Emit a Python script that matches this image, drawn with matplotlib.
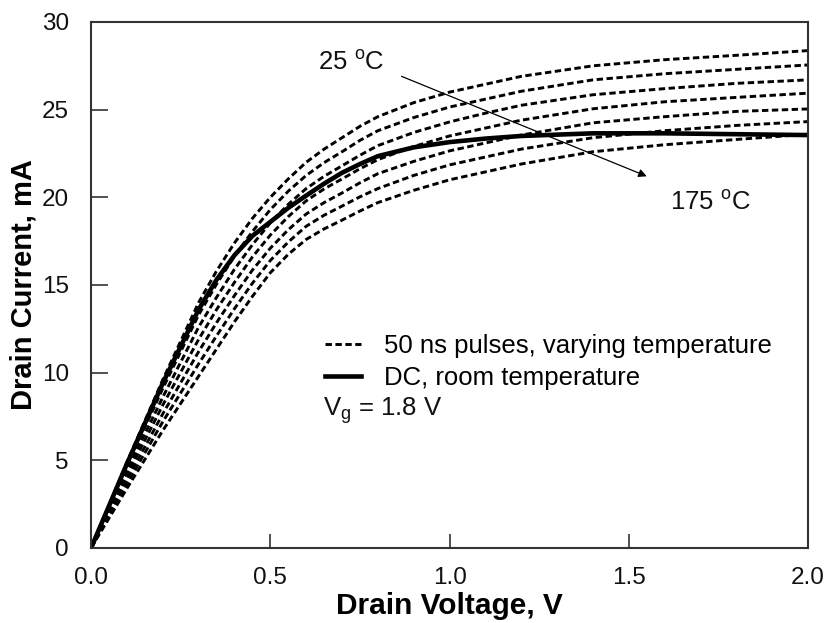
import matplotlib
matplotlib.use("Agg")
import matplotlib.pyplot as plt
from matplotlib.lines import Line2D

plt.rcParams['font.family'] = ['Liberation Sans', 'DejaVu Sans']

# drain voltage, V
vd = [0, 0.1, 0.2, 0.3, 0.35, 0.4, 0.45, 0.5, 0.55, 0.6, 0.65, 0.7, 0.75, 0.8, 0.9,
      1.0, 1.1, 1.2, 1.4, 1.6, 1.8, 2.0]

# 50 ns pulsed curves, 25 C (top) ... 175 C (bottom), drain current in mA
pulse_25 = [0, 4.9, 9.6, 14.0, 15.8, 17.4, 18.8, 20.0, 21.05, 22.0, 22.75, 23.4, 24.05, 24.6, 25.4,
            26.0, 26.45, 26.9, 27.5, 27.85, 28.1, 28.37]
pulse_50 = [0, 4.65, 9.1, 13.3, 15.05, 16.65, 18.05, 19.3, 20.35, 21.25, 21.98, 22.6, 23.25, 23.8, 24.55,
            25.15, 25.6, 26.05, 26.7, 27.05, 27.3, 27.55]
pulse_75 = [0, 4.4, 8.6, 12.6, 14.3, 15.9, 17.3, 18.55, 19.6, 20.5, 21.2, 21.8, 22.4, 22.95, 23.7,
            24.3, 24.8, 25.25, 25.85, 26.2, 26.5, 26.7]
pulse_100 = [0, 4.15, 8.15, 11.9, 13.6, 15.15, 16.6, 17.85, 18.9, 19.8, 20.48, 21.05, 21.63, 22.15, 22.9,
             23.5, 23.95, 24.4, 25.05, 25.45, 25.7, 25.94]
pulse_125 = [0, 3.9, 7.65, 11.2, 12.85, 14.4, 15.85, 17.1, 18.15, 19.05, 19.7, 20.25, 20.83, 21.35, 22.05,
             22.65, 23.1, 23.55, 24.25, 24.6, 24.9, 25.04]
pulse_150 = [0, 3.65, 7.2, 10.5, 12.1, 13.65, 15.1, 16.4, 17.45, 18.35, 18.98, 19.5, 20.03, 20.5, 21.25,
             21.85, 22.3, 22.75, 23.4, 23.8, 24.1, 24.32]
pulse_175 = [0, 3.4, 6.7, 9.8, 11.35, 12.9, 14.35, 15.7, 16.75, 17.6, 18.2, 18.7, 19.22, 19.7, 20.4,
             21.0, 21.45, 21.9, 22.6, 23.0, 23.3, 23.6]
pulses = [pulse_25, pulse_50, pulse_75, pulse_100, pulse_125, pulse_150, pulse_175]

# DC curve at room temperature
dc = [0, 4.8, 9.4, 13.6, 15.3, 16.7, 17.8, 18.6, 19.4, 20.1, 20.78, 21.4, 21.9, 22.35, 22.85,
      23.15, 23.35, 23.5, 23.65, 23.65, 23.6, 23.55]

x_ticks = [0.0, 0.5, 1.0, 1.5, 2.0]
y_ticks = [0, 5, 10, 15, 20, 25, 30]

fig = plt.figure(figsize=(8.28, 6.23), dpi=100)
ax = fig.add_axes([0.110, 0.1204, 0.866, 0.8443])

for cur in pulses:
    ax.plot(vd, cur, color='black', lw=2.1, dashes=(2.2, 1.2))
ax.plot(vd, dc, color='black', lw=3.3, solid_capstyle='butt')

ax.set_xlim(0, 2.0)
ax.set_ylim(0, 30)
ax.set_xticks(x_ticks)
ax.set_xticklabels(['%.1f' % t for t in x_ticks])
ax.set_yticks(y_ticks)

ax.tick_params(axis='both', direction='in', labelsize=17.5, width=1.2,
               color='#333333', labelcolor='#111111')
ax.tick_params(axis='x', length=10, pad=14)
ax.tick_params(axis='y', length=12, pad=16)
for s in ax.spines.values():
    s.set_linewidth(1.5)
    s.set_color('#333333')

ax.set_xlabel('Drain Voltage, V', fontsize=21.5, fontweight='bold', labelpad=2)
ax.set_ylabel('Drain Current, mA', fontsize=21, fontweight='bold', labelpad=3)

# temperature arrow
ax.annotate('', xy=(1.55, 21.2), xytext=(0.866, 26.9),
            arrowprops=dict(arrowstyle='-|>', color='black', lw=0.9,
                            mutation_scale=12, shrinkA=0, shrinkB=0))
ax.text(0.633, 27.65, '25 $\\mathregular{^o}$C', fontsize=18.5, color='#111111', va='center')
ax.text(1.615, 19.7, '175 $\\mathregular{^o}$C', fontsize=18.5, color='#111111', va='center')

handles = [Line2D([], [], color='black', lw=2.1, dashes=(2.2, 1.2)),
           Line2D([], [], color='black', lw=3.3)]
ax.legend(handles, ['50 ns pulses, varying temperature', 'DC, room temperature'],
          loc='upper left', bbox_to_anchor=(0.3264, 0.407), frameon=False,
          fontsize=18.5, handlelength=1.4, handletextpad=0.9, labelspacing=0.3,
          borderpad=0, borderaxespad=0)
ax.text(0.647, 7.85, '$\\mathregular{V_g}$ = 1.8 V', fontsize=18.5, color='#111111', va='center')

fig.savefig('out.png', dpi=100)
